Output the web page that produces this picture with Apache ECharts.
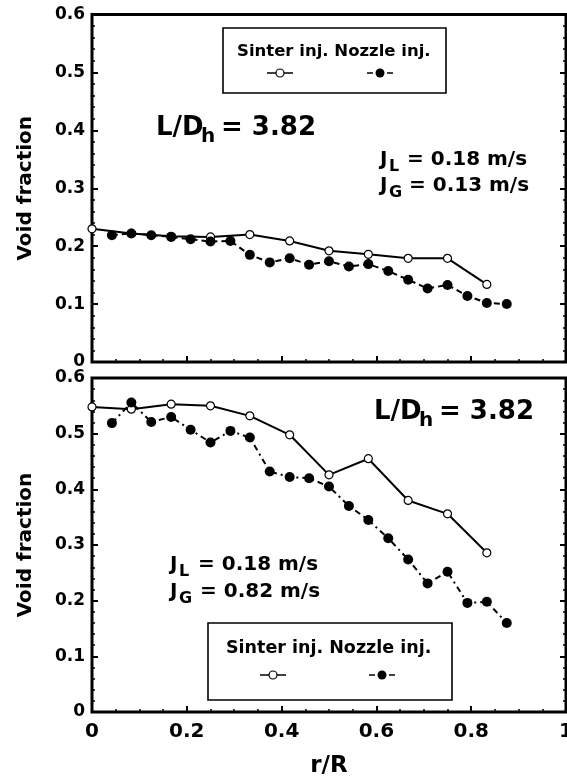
<!DOCTYPE html>
<html>
<head>
<meta charset="utf-8">
<script src="https://cdn.jsdelivr.net/npm/echarts@6/dist/echarts.min.js"></script>
<style>
html,body{margin:0;padding:0;background:#fff;}
#c{width:567px;height:776px;}
</style>
</head>
<body>
<div id="c"></div>
<script>
// ---- data ----
const rSinter = [0, 0.083, 0.167, 0.25, 0.333, 0.417, 0.5, 0.583, 0.667, 0.75, 0.833];
const rNozzle = [0.042, 0.083, 0.125, 0.167, 0.208, 0.25, 0.292, 0.333, 0.375, 0.417, 0.458,
                 0.5, 0.542, 0.583, 0.625, 0.667, 0.708, 0.75, 0.792, 0.833, 0.875];
const sinterTop = [0.230, 0.222, 0.217, 0.216, 0.220, 0.209, 0.192, 0.186, 0.179, 0.179, 0.134];
const nozzleTop = [0.219, 0.222, 0.219, 0.216, 0.212, 0.208, 0.209, 0.185, 0.172, 0.179, 0.168,
                   0.174, 0.165, 0.169, 0.157, 0.142, 0.127, 0.133, 0.114, 0.102, 0.100];
const sinterBottom = [0.548, 0.544, 0.553, 0.550, 0.532, 0.498, 0.426, 0.455, 0.380, 0.356, 0.286];
const nozzleBottom = [0.519, 0.556, 0.521, 0.530, 0.507, 0.484, 0.505, 0.493, 0.432, 0.422, 0.420,
                      0.405, 0.370, 0.345, 0.312, 0.274, 0.231, 0.252, 0.196, 0.198, 0.160];
const seriesNames = ['Sinter inj.', 'Nozzle inj.'];
const xName = 'r/R';
const yName = 'Void fraction';

const FONT = 'DejaVu Sans';
function zip(xs, ys) { return xs.map((x, i) => [x, ys[i]]); }

function xAxisCfg(grid, showLabels) {
  const a = {
    gridIndex: grid, type: 'value', min: 0, max: 1, interval: 0.2,
    axisLine: {show: false},
    axisTick: {show: true, inside: true, length: 6, lineStyle: {color: '#000', width: 2}},
    minorTick: {show: true, splitNumber: 4, length: 3, lineStyle: {color: '#000', width: 1.5}},
    splitLine: {show: false}, minorSplitLine: {show: false},
    axisLabel: {show: showLabels, color: '#000', fontFamily: FONT, fontWeight: 'bold', fontSize: 20, margin: 10,
                showMaxLabel: true, hideOverlap: false}
  };
  if (showLabels) {
    a.name = xName; a.nameLocation = 'middle'; a.nameGap = 43;
    a.nameTextStyle = {color: '#000', fontFamily: FONT, fontWeight: 'bold', fontSize: 23};
  }
  return a;
}
function yAxisCfg(grid, pos) {
  const left = pos === 'left';
  const a = {
    gridIndex: grid, type: 'value', position: pos, min: 0, max: 0.6, interval: 0.1,
    axisLine: {show: false},
    axisTick: {show: true, inside: true, length: 6, lineStyle: {color: '#000', width: 2}},
    minorTick: {show: true, splitNumber: 5, length: 3, lineStyle: {color: '#000', width: 1.5}},
    splitLine: {show: false}, minorSplitLine: {show: false},
    axisLabel: {show: left, color: '#000', fontFamily: FONT, fontWeight: 'bold', fontSize: 17, margin: 7,
                showMaxLabel: true, showMinLabel: true, hideOverlap: false}
  };
  if (left) {
    a.name = yName; a.nameLocation = 'middle'; a.nameGap = 56; a.nameRotate = 90;
    a.nameTextStyle = {color: '#000', fontFamily: FONT, fontWeight: 'bold', fontSize: 20};
  }
  return a;
}
function sinterSeries(xi, yi, data) {
  return {type: 'line', name: seriesNames[0], xAxisIndex: xi, yAxisIndex: yi, data: data,
    symbol: 'circle', symbolSize: 8, z: 2, silent: true, animation: false,
    itemStyle: {color: '#fff', borderColor: '#000', borderWidth: 1.2},
    lineStyle: {color: '#000', width: 2}};
}
function nozzleSeries(xi, yi, data, dash) {
  return {type: 'line', name: seriesNames[1], xAxisIndex: xi, yAxisIndex: yi, data: data,
    symbol: 'circle', symbolSize: 10, z: 3, silent: true, animation: false,
    itemStyle: {color: '#000', borderWidth: 0},
    lineStyle: {color: '#000', width: 2, type: dash}};
}
function txt(x, y, text, size) {
  return {type: 'text', x: x, y: y, z: 10, style: {text: text, fill: '#000',
    font: 'bold ' + size + 'px "' + FONT + '"', align: 'left', verticalAlign: 'middle'}};
}
function legendBox(x, y, w, h, fs, tx, ty, symY, sx, nx) {
  return [
    {type: 'rect', z: 5, shape: {x: x, y: y, width: w, height: h}, style: {fill: '#fff', stroke: '#000', lineWidth: 1.6}},
    {type: 'text', z: 6, x: tx, y: ty, style: {text: seriesNames.join(' '), fill: '#000', font: 'bold ' + fs + 'px "' + FONT + '"', align: 'left', verticalAlign: 'middle'}},
    {type: 'line', z: 6, shape: {x1: sx - 13, y1: symY, x2: sx + 13, y2: symY}, style: {stroke: '#000', lineWidth: 1.5}},
    {type: 'circle', z: 7, shape: {cx: sx, cy: symY, r: 4}, style: {fill: '#fff', stroke: '#000', lineWidth: 1.2}},
    {type: 'line', z: 6, shape: {x1: nx - 13, y1: symY, x2: nx - 7, y2: symY}, style: {stroke: '#000', lineWidth: 1.5}},
    {type: 'line', z: 6, shape: {x1: nx + 7, y1: symY, x2: nx + 13, y2: symY}, style: {stroke: '#000', lineWidth: 1.5}},
    {type: 'circle', z: 7, shape: {cx: nx, cy: symY, r: 4.5}, style: {fill: '#000'}}
  ];
}

const chart = echarts.init(document.getElementById('c'), null, {renderer: 'canvas'});
chart.setOption({
  animation: false,
  backgroundColor: '#fff',
  grid: [
    {left: 92, top: 14.5, width: 474, height: 347.5, show: true, borderColor: '#000', borderWidth: 3,
     backgroundColor: 'transparent', containLabel: false, outerBoundsMode: 'none'},
    {left: 92, top: 378, width: 474, height: 334, show: true, borderColor: '#000', borderWidth: 3,
     backgroundColor: 'transparent', containLabel: false, outerBoundsMode: 'none'}
  ],
  xAxis: [xAxisCfg(0, false), xAxisCfg(1, true)],
  yAxis: [yAxisCfg(0, 'left'), yAxisCfg(0, 'right'), yAxisCfg(1, 'left'), yAxisCfg(1, 'right')],
  series: [
    sinterSeries(0, 0, zip(rSinter, sinterTop)),
    nozzleSeries(0, 0, zip(rNozzle, nozzleTop), [6, 4]),
    sinterSeries(1, 2, zip(rSinter, sinterBottom)),
    nozzleSeries(1, 2, zip(rNozzle, nozzleBottom), [6, 4, 2, 4])
  ],
  graphic: [].concat(
    legendBox(223, 28, 223, 65, 16.5, 237, 52, 73, 280, 380),
    legendBox(208, 623, 244, 77, 17.5, 226, 648, 675, 273, 382),
    [
      // top annotations
      txt(156, 128, 'L/D', 26), txt(201, 137, 'h', 20), txt(221, 128, '= 3.82', 26),
      txt(380, 160, 'J', 20), txt(389, 167, 'L', 16), txt(407, 160, '= 0.18 m/s', 20),
      txt(380, 186, 'J', 20), txt(389, 193, 'G', 16), txt(409, 186, '= 0.13 m/s', 20),
      // bottom annotations
      txt(374, 412, 'L/D', 26), txt(419, 421, 'h', 20), txt(439, 412, '= 3.82', 26),
      txt(170, 565, 'J', 20), txt(179, 572, 'L', 16), txt(198, 565, '= 0.18 m/s', 20),
      txt(170, 592, 'J', 20), txt(179, 599, 'G', 16), txt(200, 592, '= 0.82 m/s', 20)
    ]
  )
});
</script>
</body>
</html>
